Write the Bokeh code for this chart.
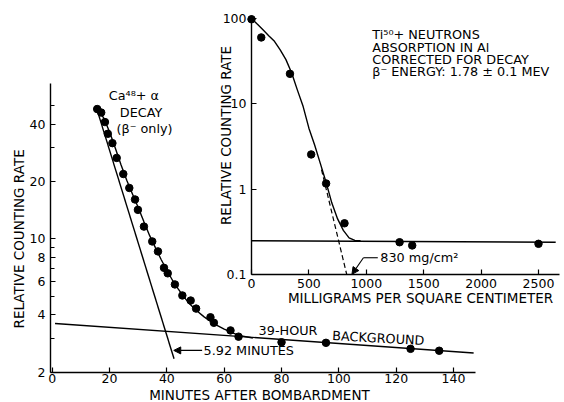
import math
from bokeh.plotting import figure
from bokeh.models import (Range1d, FixedTicker, CustomJSTickFormatter, Arrow,
                          NormalHead, LinearAxis, LogAxis, LogScale)
from bokeh.core.properties import value
from bokeh.embed import file_html
from bokeh.resources import INLINE

FONT = "DejaVu Sans"

# ---------------- main chart data (Ca48 + alpha decay) ----------------
decay_minutes = [15.7, 17.1, 18.4, 19.4, 21.0, 22.5, 24.8, 26.9, 28.9, 29.9,
                 32.0, 34.9, 36.9, 39.0, 40.3, 42.8, 45.4, 48.3, 50.2, 55.2,
                 56.4, 62.2, 65.0, 80.0, 95.5, 125.0, 135.0]
decay_rate = [48, 46, 41, 35.6, 31.8, 26.6, 21.9, 18.5, 16.1, 14.2,
              11.6, 9.7, 8.6, 7.05, 6.6, 5.77, 5.05, 4.75, 4.31, 3.88,
              3.63, 3.31, 3.07, 2.87, 2.85, 2.65, 2.59]
decay_curve_minutes = [15.5, 18, 20, 22, 24, 26, 28, 30, 32, 34, 36, 38, 40,
                       42, 44, 46, 48, 50, 53, 56, 60, 65, 70]
decay_curve_rate = [49, 43, 36.5, 30, 24.5, 20.3, 17.2, 14.6, 12.3, 10.4, 9.0,
                    7.8, 6.85, 6.05, 5.45, 4.95, 4.55, 4.25, 3.9, 3.62, 3.36,
                    3.12, 3.02]
background_minutes = [1, 147]
background_rate = [3.6, 2.52]
fast_minutes = [15.2, 42.5]
fast_rate = [50, 2.35]
main_x_ticks = [0, 20, 40, 60, 80, 100, 120, 140]
main_y_ticks = [2, 4, 6, 8, 10, 20, 40]
main_y_minor = [3, 5, 7, 9, 30, 50]

# ---------------- inset data (Ti50 + neutrons absorption) ----------------
absorber_mg = [0, 85, 335, 520, 650, 810, 1290, 1400, 2500]
absorber_rate = [98, 60, 22.5, 2.56, 1.17, 0.40, 0.24, 0.22, 0.23]
absorber_curve_mg = [0, 50, 100, 150, 200, 250, 300, 350, 400, 450, 500, 550,
                     600, 650, 700, 750, 800, 850, 900, 950]
absorber_curve_rate = [100, 86, 74, 63, 54, 43, 33, 23, 14.5, 9.3, 5.2, 3.3,
                       2.0, 1.2, 0.69, 0.45, 0.33, 0.27, 0.252, 0.25]
absorber_bg_mg = [0, 2650]
absorber_bg_rate = [0.25, 0.24]
extrap_mg = [610, 830]
extrap_rate = [1.7, 0.1]
inset_x_ticks = [0, 500, 1000, 1500, 2000, 2500]
inset_y_ticks = [0.1, 1, 10, 100]

W, H = 564, 402
FMT = "return String(tick);"

p = figure(width=W, height=H, x_range=Range1d(-18.03, 178.7),
           y_range=Range1d(1.386, 178.1), y_axis_type="log",
           output_backend="svg", toolbar_location=None,
           min_border_left=0, min_border_right=0, min_border_top=0,
           min_border_bottom=0)
p.extra_x_ranges = {"ix": Range1d(-2186.4, 2726.5)}
p.extra_y_ranges = {"iy": Range1d(0.003188, 162.5)}
p.extra_y_scales = {"iy": LogScale()}
p.background_fill_color = None
p.border_fill_color = None
p.outline_line_color = None
p.grid.visible = False

# inset axes, pinned inside the frame
inset_xaxis = LinearAxis(x_range_name="ix", y_range_name="iy",
                         fixed_location=0.1, bounds=(0, 2680))
inset_yaxis = LogAxis(x_range_name="ix", y_range_name="iy",
                      fixed_location=0, bounds=(0.1, 108))
p.add_layout(inset_xaxis, "below")
p.add_layout(inset_yaxis, "left")


def style_axis(ax):
    ax.axis_line_color = "black"
    ax.axis_line_width = 1.4
    ax.major_tick_line_color = "black"
    ax.minor_tick_line_color = "black"
    ax.major_tick_line_width = 1.2
    ax.minor_tick_line_width = 1.2
    ax.major_tick_in = 5
    ax.major_tick_out = 0
    ax.minor_tick_in = 4
    ax.minor_tick_out = 0
    ax.major_label_text_font = FONT
    ax.major_label_text_font_size = "12.5px"
    ax.major_label_text_color = "black"
    ax.formatter = CustomJSTickFormatter(code=FMT)


main_x = p.xaxis[0]
main_y = p.yaxis[0]
main_x.fixed_location = 2
main_y.fixed_location = -0.6
main_x.ticker = FixedTicker(ticks=main_x_ticks)
main_y.ticker = FixedTicker(ticks=main_y_ticks, minor_ticks=main_y_minor)
main_x.bounds = (-0.6, 147.7)
main_y.bounds = (2, 65)
for ax in (main_x, main_y, inset_xaxis, inset_yaxis):
    style_axis(ax)
main_x.major_label_standoff = 2
main_y.major_label_standoff = 5

inset_xaxis.ticker = FixedTicker(ticks=inset_x_ticks, minor_ticks=[])
inset_yaxis.ticker = FixedTicker(ticks=inset_y_ticks, minor_ticks=[])
inset_xaxis.major_label_standoff = 4
inset_yaxis.major_label_standoff = 5


def txt(x, y, s, align="left", angle=0, size="12.8px", **kw):
    p.text(x=[x], y=[y], text=[s], text_font=value(FONT), text_font_size=size,
           text_align=align, text_baseline="middle", text_color="black",
           angle=angle, **kw)


IR = dict(x_range_name="ix", y_range_name="iy")

# axis titles
txt(-11.75, 10, "RELATIVE COUNTING RATE", align="center", angle=math.pi / 2,
    size="13.5px")
txt(72.3, 1.51, "MINUTES AFTER BOMBARDMENT", align="center", size="13.5px")
txt(-226, 4.27, "RELATIVE COUNTING RATE", align="center", angle=math.pi / 2,
    size="13.5px", **IR)
txt(1472, 0.054, "MILLIGRAMS PER SQUARE CENTIMETER", align="center",
    size="13.5px", **IR)

# ---------------- main plot marks ----------------
p.line(background_minutes, background_rate, color="black", line_width=1.4)
p.line(fast_minutes, fast_rate, color="black", line_width=1.4)
p.line(decay_curve_minutes, decay_curve_rate, color="black", line_width=1.4)
p.scatter(decay_minutes, decay_rate, size=7.5, color="black")

txt(28.5, 56.5, "Ca⁴⁸+ α", align="center")
txt(31.0, 46, "DECAY", align="center")
txt(32.2, 38, "(β⁻ only)", align="center")
txt(72, 3.31, "39-HOUR")
txt(97.7, 3.11, "BACKGROUND", angle=-0.055)
txt(52.8, 2.6, "5.92 MINUTES")
p.add_layout(Arrow(end=NormalHead(size=7, fill_color="black",
                                  line_color="black"),
                   x_start=52.3, y_start=2.6, x_end=42.4, y_end=2.6,
                   line_color="black", line_width=1.2))

# ---------------- inset marks ----------------
p.line(absorber_bg_mg, absorber_bg_rate, color="black", line_width=1.4, **IR)
p.line(absorber_curve_mg, absorber_curve_rate, color="black", line_width=1.4,
       **IR)
p.line(extrap_mg, extrap_rate, color="black", line_width=1.2,
       line_dash="5 3", **IR)
p.scatter(absorber_mg, absorber_rate, size=7.5, color="black", **IR)

txt(1052, 64.9, "Ti⁵⁰+ NEUTRONS", **IR)
txt(1052, 45.7, "ABSORPTION IN Al", **IR)
txt(1052, 33, "CORRECTED FOR DECAY", **IR)
txt(1052, 23.9, "β⁻ ENERGY: 1.78 ± 0.1 MEV", **IR)
txt(1122, 0.158, "830 mg/cm²", **IR)
p.line([1100, 975], [0.158, 0.158], color="black", line_width=1.1, **IR)
p.add_layout(Arrow(end=NormalHead(size=7, fill_color="black",
                                  line_color="black"),
                   x_start=975, y_start=0.158, x_end=875, y_end=0.101,
                   line_color="black", line_width=1.1, **IR))

open("out.html", "w").write(file_html(p, INLINE))
